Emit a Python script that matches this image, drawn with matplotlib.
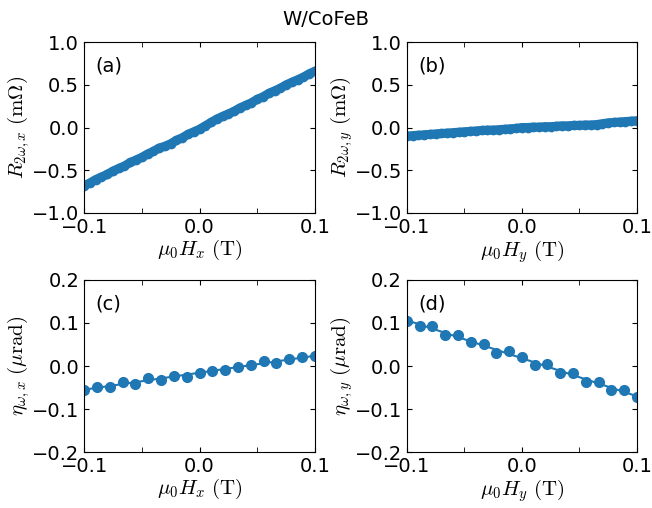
import numpy as np
import matplotlib
matplotlib.use("Agg")
import matplotlib.pyplot as plt
from matplotlib.ticker import MultipleLocator

plt.rcParams['mathtext.fontset'] = 'cm'
plt.rcParams['font.size'] = 14

# second harmonic resistance, dense field sweeps (T, mOhm)
h_dense = np.linspace(-0.1, 0.1, 41)
r2w_x = [-0.68, -0.65, -0.61, -0.58, -0.55, -0.51, -0.48, -0.45, -0.41, -0.38,
         -0.35, -0.31, -0.28, -0.24, -0.22, -0.19, -0.15, -0.12, -0.08, -0.05,
         -0.02, 0.02, 0.06, 0.10, 0.13, 0.16, 0.19, 0.23, 0.26, 0.29,
         0.33, 0.36, 0.40, 0.43, 0.46, 0.50, 0.53, 0.56, 0.59, 0.63, 0.66]
r2w_y = [-0.10, -0.095, -0.09, -0.085, -0.08, -0.075, -0.07, -0.065, -0.06, -0.055,
         -0.05, -0.045, -0.04, -0.035, -0.03, -0.03, -0.025, -0.02, -0.015, -0.01,
         0.0, 0.0, 0.005, 0.005, 0.01, 0.01, 0.015, 0.02, 0.02, 0.025,
         0.025, 0.03, 0.03, 0.035, 0.045, 0.055, 0.06, 0.065, 0.07, 0.075, 0.08]

# Kerr rotation, coarse field sweeps (T, urad)
h_coarse = np.linspace(-0.1, 0.1, 19)
eta_x = [-0.055, -0.048, -0.048, -0.038, -0.042, -0.028, -0.032, -0.023, -0.025, -0.017,
         -0.011, -0.009, -0.002, 0.002, 0.012, 0.008, 0.017, 0.020, 0.023]
eta_y = [0.104, 0.092, 0.093, 0.073, 0.073, 0.055, 0.052, 0.031, 0.035, 0.020,
         0.002, 0.004, -0.017, -0.017, -0.038, -0.038, -0.055, -0.055, -0.071]

color = '#1f77b4'

fig = plt.figure(figsize=(6.52, 5.08), dpi=100)
ax_a = fig.add_axes([0.129, 0.581, 0.354, 0.336])
ax_b = fig.add_axes([0.624, 0.581, 0.353, 0.336])
ax_c = fig.add_axes([0.129, 0.110, 0.354, 0.339])
ax_d = fig.add_axes([0.624, 0.110, 0.353, 0.339])

ax_a.plot(h_dense, r2w_x, '-o', color=color, lw=6.5, ms=7, mew=0)
ax_b.plot(h_dense, r2w_y, '-o', color=color, lw=6.5, ms=7, mew=0)

for ax, eta in [(ax_c, eta_x), (ax_d, eta_y)]:
    ax.plot(h_coarse, eta, 'o', color=color, ms=7)
    p = np.polyfit(h_coarse, eta, 1)
    ax.plot(h_coarse, np.polyval(p, h_coarse), '-', color=color, lw=1.5)

for ax in [ax_a, ax_b]:
    ax.set_ylim(-1.0, 1.0)
    ax.yaxis.set_major_locator(MultipleLocator(0.5))
for ax in [ax_c, ax_d]:
    ax.set_ylim(-0.2, 0.2)
    ax.yaxis.set_major_locator(MultipleLocator(0.1))

for ax in [ax_a, ax_b, ax_c, ax_d]:
    ax.set_xlim(-0.1, 0.1)
    ax.set_xticks([-0.1, 0.0, 0.1])
    ax.xaxis.set_minor_locator(MultipleLocator(0.05))
    ax.tick_params(which='both', direction='in', top=True, right=True, labelsize=14)
    ax.tick_params(which='minor', length=3.5)

lab = 15
ax_a.set_ylabel(r'$R_{2\omega,x}\ (\mathrm{m\Omega})$', fontsize=lab, labelpad=0)
ax_b.set_ylabel(r'$R_{2\omega,y}\ (\mathrm{m\Omega})$', fontsize=lab, labelpad=0)
ax_c.set_ylabel(r'$\eta_{\omega,x}\ (\mu\mathrm{rad})$', fontsize=lab, labelpad=0)
ax_d.set_ylabel(r'$\eta_{\omega,y}\ (\mu\mathrm{rad})$', fontsize=lab, labelpad=0)
ax_a.set_xlabel(r'$\mu_0H_x\ (\mathrm{T})$', fontsize=lab, labelpad=1)
ax_b.set_xlabel(r'$\mu_0H_y\ (\mathrm{T})$', fontsize=lab, labelpad=1)
ax_c.set_xlabel(r'$\mu_0H_x\ (\mathrm{T})$', fontsize=lab, labelpad=1)
ax_d.set_xlabel(r'$\mu_0H_y\ (\mathrm{T})$', fontsize=lab, labelpad=1)

for ax, tag in zip([ax_a, ax_b, ax_c, ax_d], ['(a)', '(b)', '(c)', '(d)']):
    ax.text(0.05, 0.83, tag, transform=ax.transAxes, fontsize=14)

fig.suptitle('W/CoFeB', y=0.98, fontsize=14)

fig.savefig('out.png', dpi=100)
